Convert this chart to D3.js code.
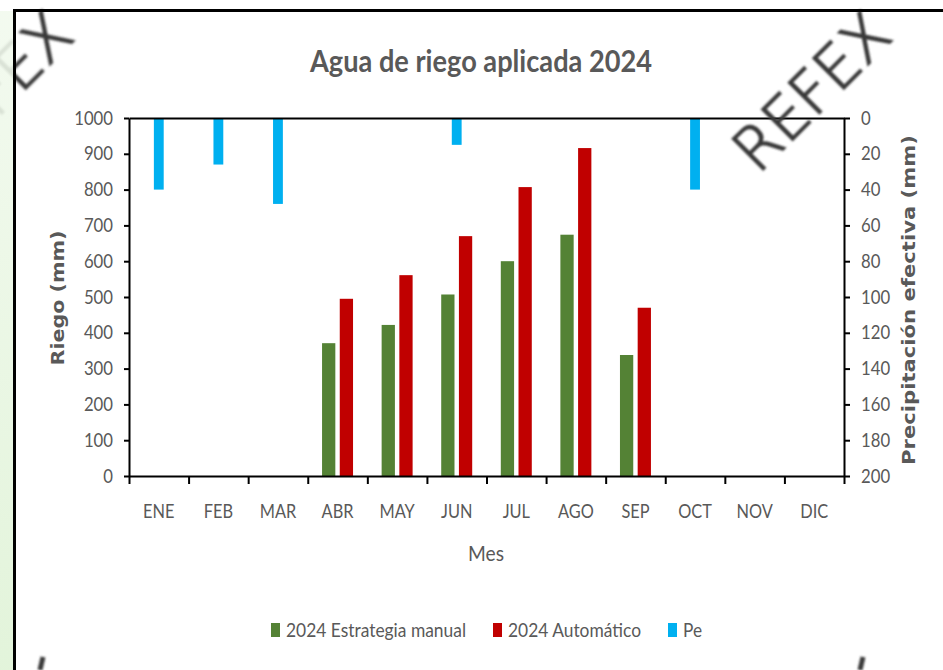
<!DOCTYPE html>
<html>
<head>
<meta charset="utf-8">
<script src="https://cdn.jsdelivr.net/npm/d3@7"></script>
<style>
  html, body { margin: 0; padding: 0; background: #fff; }
  svg { display: block; }
  .axis text { fill: #595959; font-size: 19px; font-family: Lato, "Open Sans", sans-serif; }
  .axis .domain, .axis line { stroke: #000; stroke-width: 2; }
</style>
</head>
<body>
<script>
// Monthly irrigation water applied (mm) and effective precipitation (mm), 2024
const months = ["ENE", "FEB", "MAR", "ABR", "MAY", "JUN", "JUL", "AGO", "SEP", "OCT", "NOV", "DIC"];
const manual2024 = [null, null, null, 371, 422, 507, 600, 674, 338, null, null, null];
const auto2024   = [null, null, null, 495, 561, 670, 807, 916, 470, null, null, null];
const pe2024     = [40, 26, 48, null, null, 15, null, null, null, 40, null, null];
const riegoTicks = d3.range(0, 1001, 100);
const peTicks = d3.range(0, 201, 20);

const seriesNames = ["2024 Estrategia manual", "2024 Automático", "Pe"];
const seriesColors = ["#548235", "#C00000", "#00B0F0"];

const W = 943, H = 670;
const margin = { top: 118, right: 99, bottom: 194, left: 129 };
const plotW = W - margin.left - margin.right;
const plotH = H - margin.top - margin.bottom;
const FONT = "Lato, 'Open Sans', sans-serif";
const GREY = "#595959";

// narrow the glyphs of a text selection to a share of their natural width
function squeeze(sel, factor) {
  sel.each(function () {
    const w = this.getComputedTextLength();
    d3.select(this).attr("textLength", w * factor).attr("lengthAdjust", "spacingAndGlyphs");
  });
}
function fitTo(sel, len) {
  sel.attr("textLength", len).attr("lengthAdjust", "spacingAndGlyphs");
}

const svg = d3.select("body").append("svg").attr("width", W).attr("height", H);

const defs = svg.append("defs");
const grad = defs.append("linearGradient").attr("id", "sideGreen")
  .attr("x1", 0).attr("y1", 0).attr("x2", 0).attr("y2", 1);
grad.append("stop").attr("offset", "0%").attr("stop-color", "#f1f9ed");
grad.append("stop").attr("offset", "100%").attr("stop-color", "#def2d5");
const blur = defs.append("filter").attr("id", "soft").attr("x", "-20%").attr("y", "-20%").attr("width", "140%").attr("height", "140%");
blur.append("feGaussianBlur").attr("stdDeviation", 1.0);

const g = svg.append("g").attr("transform", `translate(${margin.left},${margin.top})`);

// scales
const x = d3.scaleBand().domain(months).range([0, plotW]).paddingInner(0).paddingOuter(0);
const xEdge = d3.scaleLinear().domain([0, months.length]).range([0, plotW]);
const groupW = x.step() * 0.52;
const xs = d3.scaleBand().domain(seriesNames.slice(0, 2)).range([-groupW / 2, groupW / 2]).paddingInner(0.25);
const peW = x.step() * 0.165;
const y = d3.scaleLinear().domain([0, 1000]).range([plotH, 0]);
const y2 = d3.scaleLinear().domain([0, 200]).range([0, plotH]);

// irrigation bars
[manual2024, auto2024].forEach((vals, si) => {
  g.append("g").selectAll("rect")
    .data(months.map((m, i) => ({ m, v: vals[i] })).filter(d => d.v != null))
    .join("rect")
    .attr("x", d => x(d.m) + x.bandwidth() / 2 + xs(seriesNames[si]))
    .attr("width", xs.bandwidth())
    .attr("y", d => y(d.v))
    .attr("height", d => y(0) - y(d.v))
    .attr("fill", seriesColors[si]);
});

// effective precipitation bars hang from the top (reversed secondary axis)
g.append("g").selectAll("rect")
  .data(months.map((m, i) => ({ m, v: pe2024[i] })).filter(d => d.v != null))
  .join("rect")
  .attr("x", d => x(d.m) + x.bandwidth() / 2 - peW / 2)
  .attr("width", peW)
  .attr("y", y2(0))
  .attr("height", d => y2(d.v) - y2(0))
  .attr("fill", seriesColors[2]);

// axes
const yAxis = g.append("g").attr("class", "axis")
  .call(d3.axisLeft(y).tickValues(riegoTicks).tickFormat(d3.format("d")).tickSize(5).tickSizeOuter(0).tickPadding(11));
squeeze(yAxis.selectAll("text"), 0.88);

const y2Axis = g.append("g").attr("class", "axis").attr("transform", `translate(${plotW},0)`)
  .call(d3.axisRight(y2).tickValues(peTicks).tickFormat(d3.format("d")).tickSize(6).tickSizeOuter(0).tickPadding(11));
squeeze(y2Axis.selectAll("text"), 0.88);

g.append("g").attr("class", "axis")
  .call(d3.axisTop(xEdge).tickValues([]).tickSizeOuter(0));

g.append("g").attr("class", "axis").attr("transform", `translate(0,${plotH})`)
  .call(d3.axisBottom(xEdge).tickValues(d3.range(0, months.length + 1)).tickFormat("").tickSize(8).tickSizeOuter(0));

const xLab = g.append("g").attr("class", "axis").attr("transform", `translate(0,${plotH})`)
  .call(d3.axisBottom(x).tickSize(0).tickPadding(29));
xLab.select(".domain").remove();
squeeze(xLab.selectAll("text"), 0.86);

// titles
fitTo(svg.append("text")
  .attr("x", 481).attr("y", 72).attr("text-anchor", "middle")
  .attr("font-family", FONT).attr("font-size", 31).attr("font-weight", "bold").attr("fill", GREY)
  .text("Agua de riego aplicada 2024"), 342);

fitTo(svg.append("text")
  .attr("x", 486).attr("y", 561).attr("text-anchor", "middle")
  .attr("font-family", FONT).attr("font-size", 22).attr("fill", GREY)
  .text("Mes"), 36);

fitTo(svg.append("text")
  .attr("transform", `translate(64,298) rotate(-90)`)
  .attr("text-anchor", "middle")
  .attr("font-family", "DejaVu Sans, sans-serif").attr("font-weight", "bold")
  .attr("font-size", 17).attr("fill", GREY)
  .text("Riego (mm)"), 135);

fitTo(svg.append("text")
  .attr("transform", `translate(915,300) rotate(-90)`)
  .attr("text-anchor", "middle")
  .attr("font-family", "DejaVu Sans, sans-serif").attr("font-weight", "bold")
  .attr("font-size", 17).attr("fill", GREY)
  .text("Precipitación efectiva (mm)"), 330);

// legend
const legendWidths = [180, 133, 19];
const legend = svg.append("g").attr("transform", "translate(271,630)");
let lx = 0;
seriesNames.forEach((name, i) => {
  const item = legend.append("g").attr("transform", `translate(${lx},0)`);
  item.append("rect").attr("x", 0).attr("y", -7).attr("width", 9).attr("height", 14).attr("fill", seriesColors[i]);
  fitTo(item.append("text").attr("x", 15).attr("y", 7)
    .attr("font-family", FONT).attr("font-size", 20).attr("fill", GREY).text(name), legendWidths[i]);
  lx += 15 + legendWidths[i] + 27;
});

// watermark
const wm = svg.append("g").attr("filter", "url(#soft)").attr("fill", "#3a3a3a").attr("stroke", "#3a3a3a").attr("stroke-width", 1.6)
  .attr("font-family", "DejaVu Sans, sans-serif").attr("font-weight", 200).attr("font-size", 60);
[758, -60].forEach(px => {
  wm.append("text").attr("transform", `translate(${px},175) rotate(-45)`).text("REFEX");
});
wm.append("path").attr("d", "M40,670 L43,657").attr("stroke-width", 5).attr("fill", "none");
wm.append("path").attr("d", "M860,670 L863,657").attr("stroke-width", 5).attr("fill", "none");

// frame: green side strip and black border lines
svg.append("rect").attr("x", 0).attr("y", 11).attr("width", 14).attr("height", H - 11)
  .attr("fill", "url(#sideGreen)").attr("opacity", 0.88);
svg.append("line").attr("x1", 14).attr("x2", W).attr("y1", 10.5).attr("y2", 10.5).attr("stroke", "#000").attr("stroke-width", 3);
svg.append("line").attr("x1", 14.5).attr("x2", 14.5).attr("y1", 9).attr("y2", H).attr("stroke", "#000").attr("stroke-width", 3);
</script>
</body>
</html>
